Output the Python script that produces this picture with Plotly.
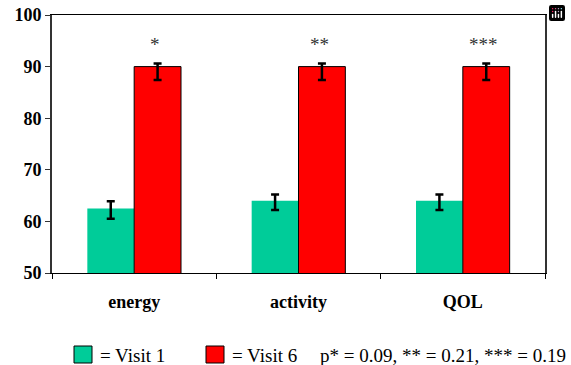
import plotly.graph_objects as go

categories = ["energy", "activity", "QOL"]
visit1 = [62.5, 64.0, 64.0]
visit6 = [90.0, 90.0, 90.0]
visit1_err_plus = [1.4, 1.2, 1.2]
visit1_err_minus = [2.0, 1.8, 1.8]
visit6_err_plus = [0.6, 0.6, 0.6]
visit6_err_minus = [2.6, 2.6, 2.6]
stars = ["*", "**", "***"]
y_ticks = [50, 60, 70, 80, 90, 100]

FONT = "Liberation Serif"

fig = go.Figure()
fig.add_trace(go.Bar(
    x=categories, y=visit1, name="Visit 1",
    marker=dict(color="#00CC99", line=dict(width=0)),
    error_y=dict(type="data", symmetric=False, array=visit1_err_plus,
                 arrayminus=visit1_err_minus, color="black", thickness=2.5, width=4),
))
fig.add_trace(go.Bar(
    x=categories, y=visit6, name="Visit 6",
    marker=dict(color="#FF0000", line=dict(width=1, color="black")),
    error_y=dict(type="data", symmetric=False, array=visit6_err_plus,
                 arrayminus=visit6_err_minus, color="black", thickness=2.5, width=4),
))

for i, s in enumerate(stars):
    fig.add_annotation(x=i, xshift=21, y=94.2, xref="x", yref="y", text=s,
                       showarrow=False, font=dict(family=FONT, size=19, color="#333"))

# legend boxes
fig.add_shape(type="rect", xref="paper", yref="paper",
              x0=(74 - 52) / 493, x1=(92 - 52) / 493, y0=(273 - 363) / 258, y1=(273 - 346) / 258,
              fillcolor="#00CC99", line=dict(color="black", width=1))
fig.add_shape(type="rect", xref="paper", yref="paper",
              x0=(206 - 52) / 493, x1=(224 - 52) / 493, y0=(273 - 363) / 258, y1=(273 - 346) / 258,
              fillcolor="#FF0000", line=dict(color="black", width=1))
fig.add_annotation(xref="paper", yref="paper", x=(98 - 52) / 493, y=(273 - 355) / 258,
                   xanchor="left", yanchor="middle", text="= Visit 1", showarrow=False,
                   font=dict(family=FONT, size=19, color="black"))
fig.add_annotation(xref="paper", yref="paper", x=(230 - 52) / 493, y=(273 - 355) / 258,
                   xanchor="left", yanchor="middle", text="= Visit 6", showarrow=False,
                   font=dict(family=FONT, size=19, color="black"))
fig.add_annotation(xref="paper", yref="paper", x=(318 - 52) / 493, y=(273 - 355) / 258,
                   xanchor="left", yanchor="middle", text="p* = 0.09, ** = 0.21, *** = 0.19",
                   showarrow=False, font=dict(family=FONT, size=19, color="black"))

fig.update_layout(
    width=571, height=365,
    margin=dict(l=52, r=26, t=15, b=92, autoexpand=False),
    paper_bgcolor="white", plot_bgcolor="white",
    barmode="group", bargap=0.43, bargroupgap=0,
    showlegend=False,
    modebar=dict(bgcolor="rgba(0,0,0,0)", color="rgba(0,0,0,0)", activecolor="rgba(0,0,0,0)"),
)
fig.update_xaxes(
    automargin=False,
    showline=True, linecolor="black", linewidth=1, mirror=True,
    ticks="outside", tickson="boundaries", ticklen=5, tickcolor="black",
    tickfont=dict(family="Liberation Serif", size=18, color="black", weight=700),
    ticklabelstandoff=12,
)
fig.update_yaxes(
    automargin=False,
    range=[50, 100], tickvals=y_ticks, showgrid=False,
    showline=True, linecolor="#333", linewidth=2, mirror=True,
    ticks="outside", ticklen=5, tickcolor="#333",
    tickfont=dict(family="Liberation Serif", size=18, color="black", weight=700),
    zeroline=False,
)

fig.write_html("out.html", post_script="document.body.style.margin='0';")
